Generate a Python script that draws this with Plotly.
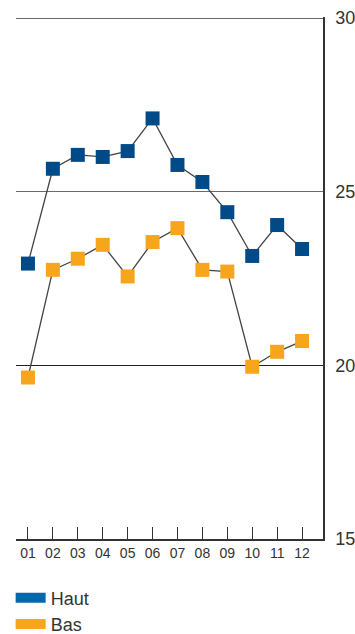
import plotly.graph_objects as go

months = ["01", "02", "03", "04", "05", "06", "07", "08", "09", "10", "11", "12"]
haut = [22.93, 25.66, 26.06, 26.0, 26.17, 27.11, 25.77, 25.28, 24.41, 23.15, 24.04, 23.35]
bas = [19.65, 22.75, 23.07, 23.47, 22.56, 23.55, 23.95, 22.75, 22.70, 19.96, 20.39, 20.70]
y_ticks = [15, 20, 25, 30]

BLUE_MK = "#004b87"
ORANGE_MK = "#f7a51c"
BLUE_LG = "#0068ad"
ORANGE_LG = "#f8a61b"
FONT = "Liberation Sans, Arial, sans-serif"

fig = go.Figure()
for vals, col in [(haut, BLUE_MK), (bas, ORANGE_MK)]:
    fig.add_trace(go.Scatter(
        x=months, y=vals, mode="lines+markers",
        line=dict(color="#444444", width=1.3),
        marker=dict(symbol="square", size=14, color=col, line=dict(width=0)),
        showlegend=False, hoverinfo="skip",
    ))
for name, col in [("Haut", BLUE_LG), ("Bas", ORANGE_LG)]:
    fig.add_trace(go.Scatter(
        x=[None], y=[None], mode="lines", name=name,
        line=dict(color=col, width=10), showlegend=True,
    ))
# overlay axis to draw the darker 20 gridline
fig.add_trace(go.Scatter(x=[None], y=[None], yaxis="y2", showlegend=False))

fig.update_layout(
    width=355, height=634,
    margin=dict(l=16, r=32, t=17, b=95, autoexpand=False),
    paper_bgcolor="white", plot_bgcolor="white",
    font=dict(family=FONT, color="#333333"),
    xaxis=dict(
        type="category", range=[-0.48, 11.84],
        tickmode="array", tickvals=months, ticktext=months,
        showgrid=False, showline=True, linecolor="#333333", linewidth=1.5,
        ticks="inside", ticklen=12, tickcolor="#333333", tickwidth=1.2,
        tickfont=dict(family="Liberation Sans Narrow, Liberation Sans, Arial", size=14, color="#333333"),
        zeroline=False, automargin=False,
    ),
    yaxis=dict(
        range=[15, 30.03], side="right", tickvals=y_ticks,
        showgrid=True, gridcolor="#6a6a6a", gridwidth=1.2,
        showline=True, linecolor="#333333", linewidth=1.5,
        ticks="", ticklabelstandoff=7,
        tickfont=dict(family=FONT, size=18, color="#333333"),
        zeroline=False, automargin=False,
    ),
    yaxis2=dict(
        range=[15, 30.03], overlaying="y", side="right", tickvals=[20],
        showgrid=True, gridcolor="#222222", gridwidth=1.2,
        showticklabels=False, showline=False, zeroline=False, automargin=False,
    ),
    legend=dict(
        xref="container", yref="container", x=0.03, y=0.086,
        xanchor="left", yanchor="top", orientation="v",
        font=dict(family=FONT, size=18, color="#333333"),
        tracegroupgap=0, itemwidth=30, bgcolor="rgba(0,0,0,0)",
    ),
)

fig.write_html("out.html")
